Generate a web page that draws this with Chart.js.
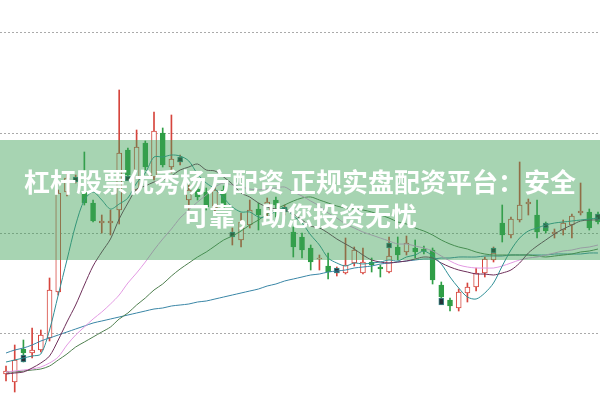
<!DOCTYPE html>
<html lang="zh-CN">
<head>
  <meta charset="UTF-8" />
  <meta name="viewport" content="width=device-width, initial-scale=1.0"/>
  <title>K线图</title>
  <script src="https://cdn.jsdelivr.net/npm/chart.js"></script>
  <style>
    html, body { margin: 0; padding: 0; background: #fff; }
    #wrap { position: relative; width: 600px; height: 400px; overflow: hidden; }
    #banner {
      position: absolute; left: 0; top: 140px; width: 600px; height: 120px;
      box-sizing: border-box; padding-top: 24px;
      background: rgba(60, 160, 85, 0.45);
      color: #fff; text-align: center;
      font-family: "Noto Sans CJK SC", sans-serif; font-weight: 700;
      font-size: 26px; line-height: 34px;
    }
  </style>
</head>
<body>
  <div id="wrap">
    <canvas id="kChart"></canvas>
    <div id="banner">
      <div>杠杆股票优秀杨方配资 正规实盘配资平台：安全</div>
      <div>可靠，助您投资无忧</div>
    </div>
  </div>

  <script>
    // daily candles
    const open = [5.9,5.1,8.4,8.0,8.3,9.5,14.1,24.1,25.2,24.1, 23.0,21.0,21.0,22.3,28.3,24.3,29.0,25.6,30.0,26.6,
      27.1,23.3,24.4,24.1,22.5,24.3,19.7,19.3,20.8,22.4, 22.1,23.3,22.1,20.1,19.6,18.5,17.4,16.7,16.0,16.0,
      17.0,16.0,17.1,16.6,16.1,18.6,18.1,18.5,18.4,18.3, 14.8,13.3,12.5,14.0,14.6,16.0,17.3,21.0,19.8,21.3,
      22.9,21.8,20.7,19.9,20.3,20.8,22.0,22.1,21.9];
    const high = [6.7,8.8,9.3,10.5,10.3,15.5,24.3,26.1,25.8,28.1, 23.3,21.8,22.3,34.3,28.5,30.3,29.2,32.1,30.5,31.8,
      27.8,24.8,24.7,24.5,25.5,24.7,20.5,22.0,23.3,23.0, 23.5,23.6,22.8,20.6,20.0,18.8,17.8,18.0,16.6,19.5,
      18.6,18.5,17.5,16.8,19.6,19.6,19.7,19.3,18.7,18.5, 15.1,13.5,14.4,15.0,16.5,17.6,18.6,22.8,21.6,27.1,
      23.4,23.3,21.1,20.4,21.3,21.9,25.0,22.4,22.1];
    const low = [5.2,4.1,7.1,7.5,8.1,9.2,13.8,23.7,25.0,22.8, 21.1,20.0,19.8,20.9,25.6,24.0,26.3,25.3,26.6,26.0,
      26.8,22.3,23.3,22.3,22.2,22.5,18.8,18.6,20.5,20.3, 21.7,21.6,21.8,17.6,17.5,16.3,16.3,15.4,15.7,15.9,
      16.7,15.9,16.1,15.6,16.0,17.3,17.8,17.5,17.9,14.9, 13.3,12.2,12.2,13.1,14.2,15.6,17.1,19.1,19.5,21.1,
      21.8,19.5,20.0,19.5,19.8,19.5,21.8,20.3,20.9];
    const close = [6.2,7.3,8.0,8.3,9.8,14.3,24.0,25.5,25.4,23.0, 21.2,21.2,21.2,28.0,25.8,28.6,26.6,30.2,26.8,27.4,
      27.3,24.3,23.6,22.6,24.3,22.8,20.0,21.1,22.3,21.8, 23.1,22.8,22.5,18.6,18.3,17.1,17.5,16.1,16.2,16.8,
      18.3,17.1,16.8,16.4,17.7,17.8,19.0,18.1,18.2,15.3, 13.6,12.7,14.1,14.6,16.0,17.4,18.0,19.8,21.4,22.8,
      23.1,20.1,20.2,20.1,21.0,21.7,22.2,20.5,21.1];

    // moving average lines
    const ma5 = [7.1,7.3,7.5,7.7,7.9,10.3,13.8,17.3,20.8,23.3, 24.1,23.3,22.4,22.9,23.5,25.0,26.0,27.6,27.6,27.8,
      27.7,27.2,25.9,25.0,24.4,23.5,22.6,22.1,22.1,21.6, 21.6,22.2,22.5,21.7,21.0,19.8,18.8,17.5,17.0,16.7,
      17.0,16.9,17.0,17.1,17.3,17.2,17.6,17.8,18.2,17.7, 16.9,15.6,14.5,13.6,13.4,14.0,15.0,16.7,18.3,19.5,
      20.2,20.5,20.8,21.0,21.1,21.2,21.3,21.4,21.5];
    const ma10 = [5.9,6.0,6.1,6.5,7.0,7.7,9.3,11.1,12.8,14.8, 16.7,18.1,19.4,21.4,23.0,24.4,24.7,25.1,25.3,25.7,
      26.3,26.6,26.9,26.3,26.2,25.6,24.9,24.0,23.6,23.0, 22.6,22.4,22.3,21.9,21.3,20.7,20.5,20.0,19.4,18.9,
      18.4,17.8,17.3,17.1,17.0,17.1,17.2,17.4,17.6,17.5, 17.0,16.6,16.3,16.1,15.9,15.9,15.8,16.0,16.3,17.0,
      18.0,18.7,19.3,19.9,20.4,20.8,21.2,21.3,21.3];
    const ma20 = [6.1,6.2,6.3,6.4,6.6,7.0,7.6,8.8,9.8,10.6, 11.4,12.1,12.9,13.8,15.0,16.0,17.1,18.3,19.4,20.4,
      21.5,22.3,23.1,23.8,24.6,25.0,24.8,24.6,24.4,24.3, 24.4,24.5,24.6,24.1,23.7,23.2,22.7,22.0,21.5,20.9,
      20.5,20.1,19.8,19.5,19.2,18.9,18.9,18.7,18.5,18.2, 17.7,17.2,16.8,16.6,16.5,16.5,16.5,16.7,17.0,17.3,
      17.5,17.6,17.8,18.0,18.2,18.3,18.5,18.6,18.8];
    const ma30 = [6.1,6.1,6.2,6.3,6.4,6.7,7.3,7.9,8.6,9.1, 9.6,10.1,10.6,11.4,12.0,12.8,13.5,14.3,14.9,15.7,
      16.4,17.0,17.6,18.1,18.7,19.3,19.7,20.2,20.8,21.3, 21.9,22.4,22.8,23.2,23.5,23.6,23.3,23.0,22.7,22.5,
      22.4,22.3,22.1,21.8,21.5,21.1,20.9,20.5,20.2,19.8, 19.3,18.9,18.6,18.4,18.1,17.9,17.8,17.8,17.8,17.8,
      17.8,17.7,17.6,17.7,17.8,17.9,18.1,18.2,18.4];
    const ma60 = [8.0,8.3,8.5,8.8,9.2,9.5,9.8,10.1,10.4,10.7, 11.0,11.2,11.4,11.6,11.8,12.0,12.2,12.4,12.5,12.7,
      12.8,12.9,13.1,13.2,13.4,13.6,13.8,14.0,14.2,14.4, 14.7,14.9,15.2,15.4,15.6,15.8,15.9,16.1,16.2,16.3,
      16.5,16.6,16.7,16.9,17.0,17.1,17.2,17.3,17.4,17.4, 17.5,17.5,17.6,17.6,17.6,17.7,17.7,17.7,17.8,17.8,
      17.8,17.8,17.8,17.9,17.9,17.9,17.9,18.0,18.0];

    // small dark markers every sixth bar
    const markDay = [2, 8, 14, 20, 26, 32, 38, 44, 50, 56, 62, 68];
    const markLo = [7.1, 25.1, 25.2, 27.1, 19.6, 22.1, 16.0, 18.5, 12.8, 18.0, 20.5, 21.3];
    const markHi = [7.8, 25.6, 25.7, 27.6, 20.1, 22.6, 16.5, 19.0, 13.5, 18.5, 21.0, 21.9];

    const gridTicks = [10, 20, 30, 40];

    const RED = '#d6453d';
    const GREEN = '#2f9e46';

    const days = open.map((_, i) => i);
    const rising = days.map(i => close[i] >= open[i]);

    const wickData = days.map(i => ({ x: i, y: [low[i], high[i]] }));
    const bodyData = days.map(i => ({ x: i, y: [open[i], close[i]] }));
    const markData = markDay.map((d, k) => ({ x: d, y: [markLo[k], markHi[k]] }));
    const toPoints = arr => arr.map((v, i) => ({ x: i, y: v }));

    function maLine(arr, color) {
      return {
        type: 'line',
        data: toPoints(arr),
        borderColor: color,
        borderWidth: 1,
        pointRadius: 0,
        tension: 0.3,
        order: 0
      };
    }

    new Chart(document.getElementById('kChart'), {
      type: 'bar',
      data: {
        datasets: [
          maLine(ma5, '#2f8f96'),
          maLine(ma10, '#6e2f5a'),
          maLine(ma20, '#e39ae3'),
          maLine(ma30, '#4f7f4f'),
          maLine(ma60, '#3a86a6'),
          {
            data: markData,
            backgroundColor: '#263238',
            borderColor: '#3b8b8b',
            borderWidth: 1,
            borderSkipped: false,
            barThickness: 5,
            grouped: false,
            order: 1
          },
          {
            data: bodyData,
            backgroundColor: rising.map(u => u ? '#ffffff' : GREEN),
            borderColor: rising.map(u => u ? RED : GREEN),
            borderWidth: 1,
            borderSkipped: false,
            barThickness: 5,
            minBarLength: 1,
            grouped: false,
            order: 2
          },
          {
            data: wickData,
            backgroundColor: rising.map(u => u ? RED : GREEN),
            barThickness: 1,
            minBarLength: 1,
            grouped: false,
            order: 3
          }
        ]
      },
      options: {
        responsive: true,
        maintainAspectRatio: false,
        animation: false,
        layout: { padding: 0 },
        plugins: { legend: { display: false }, tooltip: { enabled: false } },
        scales: {
          x: { type: 'linear', display: false, offset: false, min: -0.69, max: 68.23 },
          y: {
            min: 3.3,
            max: 43.3,
            afterBuildTicks: s => { s.ticks = gridTicks.map(v => ({ value: v })); },
            afterFit: s => { s.width = 0; },
            ticks: { display: false },
            grid: { color: '#aaaaaa', drawTicks: false },
            border: { display: false, dash: [2, 2] }
          }
        }
      }
    });
  </script>
</body>
</html>
